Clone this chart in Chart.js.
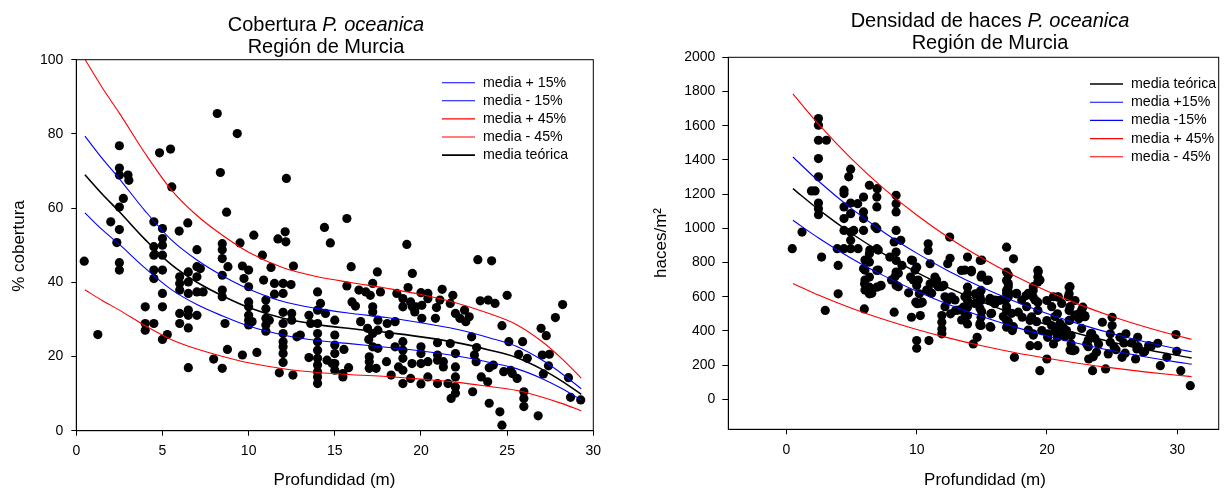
<!DOCTYPE html>
<html>
<head>
<meta charset="utf-8">
<script src="https://cdn.jsdelivr.net/npm/chart.js@4"></script>
<style>
  html, body { margin: 0; padding: 0; background: #fff; overflow: hidden; }
  #wrap { position: relative; width: 1232px; height: 491px; }
  canvas { position: absolute; top: 0; }
  #coverChart { left: 0; }
  #densChart { left: 616px; }
</style>
</head>
<body>
<div id="wrap">
  <canvas id="coverChart" width="616" height="491"></canvas>
  <canvas id="densChart" width="616" height="491"></canvas>
</div>
<script>
// Cobertura P. oceanica - puntos (profundidad m, % cobertura)
const coverDepth = [
  0.46, 1.25, 2.0, 2.35, 2.5, 2.5, 2.5, 2.5, 2.5, 2.5, 2.5, 2.73, 3.0, 3.05,
  4.0, 4.0, 4.0, 4.5, 4.5, 4.5, 4.5, 4.5, 4.5, 4.83, 5.0, 5.0, 5.0, 5.0, 5.0, 5.0, 5.0, 5.0,
  5.28, 5.47, 5.54, 5.97, 6.0, 6.0, 6.0, 6.0, 6.0, 6.47, 6.5, 6.5, 6.5, 6.5, 6.5, 6.5, 6.5,
  7.0, 7.0, 7.0, 7.0, 7.0, 7.2, 7.36, 7.97, 8.18, 8.36, 8.47, 8.47, 8.47, 8.47, 8.47, 8.47, 8.47,
  8.63, 8.72, 8.8, 8.77, 9.34, 9.5, 9.64, 9.73, 9.64,
  10.0, 10.0, 10.0, 10.0, 10.0, 10.0, 10.0, 10.2, 10.3, 10.48, 10.8, 10.87,
  11.0, 11.0, 11.0, 11.0, 11.0, 11.2, 11.3, 11.5, 11.5, 11.7, 11.78,
  12.0, 12.0, 12.0, 12.0, 12.0, 12.0, 12.0, 12.0, 12.0, 12.12, 12.16, 12.19, 12.46, 12.5, 12.5,
  12.6, 12.57, 12.8, 13.0, 13.5, 13.5, 13.6,
  14.0, 14.0, 14.0, 14.0, 14.0, 14.0, 14.0, 14.0, 14.0, 14.0, 14.0, 14.17, 14.4, 14.46, 14.55,
  14.74, 14.85, 15.0, 15.0, 15.0, 15.0, 15.0, 15.0, 15.47, 15.47, 15.53, 15.7, 15.7, 15.8, 15.95,
  16.0, 16.2, 16.4, 16.5, 16.8, 16.9, 16.97, 17.0, 17.0, 17.0, 17.06, 17.2, 17.2, 17.2, 17.2, 17.2,
  17.4, 17.47, 17.5, 17.5, 17.5, 17.65, 18.0, 18.04, 18.16, 18.27, 18.5, 18.5, 18.6, 18.7,
  18.95, 18.95, 18.95, 18.95, 18.95, 18.95, 18.95, 19.18, 19.25, 19.4, 19.5, 19.64, 19.5, 19.48,
  19.4, 19.7, 20.0, 20.0, 20.0, 20.0, 20.0, 20.05, 20.05, 20.4, 20.4, 20.4, 20.4,
  20.84, 20.9, 20.96, 20.96, 20.96, 20.96, 21.23, 21.1, 21.3, 21.3, 21.57, 21.7, 21.7, 21.75, 21.85,
  22.0, 22.0, 22.0, 22.0, 22.0, 22.0, 22.26, 22.53, 22.6, 22.8, 22.94, 23.0, 23.1, 23.2, 23.23,
  23.3, 23.44, 23.5, 23.87, 23.9, 23.96, 23.96, 24.1, 24.2, 24.3, 24.58, 24.7, 24.7, 24.8,
  25.0, 25.1, 25.2, 25.3, 25.58, 25.67, 25.9, 25.97, 25.97, 25.97, 26.17, 26.8, 26.97, 27.04,
  27.1, 27.27, 27.45, 27.4, 27.8, 28.22, 28.56, 28.68, 29.27
];
const coverValue = [
  45.7, 25.9, 56.3, 50.7, 76.8, 70.8, 68.9, 60.3, 54.2, 45.3, 43.3, 62.6, 68.9, 67.5,
  33.4, 28.9, 27.1, 56.3, 49.6, 47.3, 43.3, 41.0, 28.9, 74.9, 54.5, 51.8, 50.0, 47.3, 43.3, 37.0, 33.4, 24.6,
  25.9, 75.9, 65.7, 53.8, 41.5, 39.7, 37.9, 31.6, 28.9, 56.0, 42.8, 40.1, 37.0, 32.5, 31.1, 27.7, 17.0,
  48.8, 44.2, 41.5, 37.4, 31.1, 43.7, 37.4, 19.3, 85.5, 69.6, 50.4, 48.8, 46.4, 41.9, 37.9, 36.1, 16.8,
  28.9, 58.9, 44.2, 21.9, 80.1, 50.6, 44.4, 41.0, 20.4,
  43.3, 38.8, 34.7, 33.4, 31.1, 29.8, 28.5, 29.4, 52.7, 21.1, 47.3, 40.6,
  35.2, 32.9, 30.3, 28.5, 26.8, 29.8, 44.0, 39.7, 36.8, 51.7, 15.6,
  39.7, 37.0, 31.9, 28.9, 26.2, 24.0, 22.6, 20.8, 18.4, 53.6, 50.9, 68.0, 39.4, 31.6, 29.8,
  44.4, 15.0, 25.3, 25.8, 31.1, 19.7, 28.9,
  37.4, 32.5, 28.9, 26.2, 24.0, 21.7, 19.5, 17.7, 15.9, 14.5, 12.7, 34.3, 54.8, 31.6, 19.0,
  50.6, 18.1, 29.8, 25.8, 23.1, 20.8, 18.1, 16.3, 15.4, 14.5, 21.9, 57.2, 39.0, 17.0, 44.2,
  34.7, 33.6, 37.9, 29.4, 37.4, 27.6, 24.6, 19.9, 18.6, 16.8, 36.5, 39.7, 33.4, 32.0, 26.2, 22.6,
  16.8, 42.8, 29.8, 27.1, 22.2, 37.4, 18.6, 28.9, 25.9, 15.0, 29.4, 22.6, 37.0, 17.2,
  24.0, 21.7, 19.5, 16.3, 12.7, 35.6, 33.4, 50.2, 38.6, 34.7, 33.4, 32.0, 42.4, 18.1,
  14.1, 33.4, 37.2, 22.6, 20.8, 18.1, 12.6, 30.3, 33.8, 37.0, 35.6, 18.6, 14.5,
  30.3, 33.2, 23.7, 20.4, 19.0, 12.7, 38.1, 35.2, 18.6, 17.2, 12.7, 34.3, 23.5, 8.7, 36.5,
  20.8, 17.2, 14.5, 11.8, 10.1, 31.6, 30.3, 32.5, 29.4, 30.7, 25.3, 10.5, 20.4, 18.6, 22.4,
  46.1, 35.0, 14.5, 13.2, 35.2, 7.4, 17.0, 45.8, 17.7, 34.3, 5.1, 28.3, 1.5, 15.9,
  36.5, 24.0, 16.3, 15.4, 14.1, 20.6, 24.0, 10.5, 8.7, 6.5, 19.5, 4.0, 27.6, 20.4,
  15.3, 25.6, 20.6, 17.5, 30.5, 34.0, 14.3, 9.0, 8.3
];

// Curvas de cobertura: media teórica y bandas
const coverCurveDepth = [0.5, 1.5, 2.5, 4, 5.5, 7, 8.5, 10, 12, 14, 16, 18, 20, 22, 24, 25.5, 27, 28.2, 29.3];
const coverMean   = [69.0, 63.8, 59.0, 51.5, 44.8, 40.0, 36.3, 33.2, 30.3, 28.6, 27.5, 26.5, 25.3, 23.8, 21.7, 19.8, 16.6, 13.3, 9.8];
const coverPlus15 = [79.4, 73.4, 67.9, 59.2, 51.5, 46.0, 41.7, 38.2, 34.8, 32.9, 31.6, 30.5, 29.1, 27.4, 25.0, 22.8, 19.1, 15.3, 11.3];
const coverMinus15 = [58.7, 54.2, 50.2, 43.8, 38.1, 34.0, 30.9, 28.2, 25.8, 24.3, 23.4, 22.5, 21.5, 20.2, 18.4, 16.8, 14.1, 11.3, 8.3];
const coverPlus45 = [100.1, 92.5, 85.6, 74.7, 65.0, 58.0, 52.6, 48.1, 43.9, 41.5, 39.9, 38.4, 36.7, 34.5, 31.5, 28.7, 24.1, 19.3, 14.2];
const coverMinus45 = [38.0, 35.1, 32.5, 28.3, 24.6, 22.0, 20.0, 18.3, 16.7, 15.7, 15.1, 14.6, 13.9, 13.1, 11.9, 10.9, 9.1, 7.3, 5.4];

// Densidad de haces - puntos (profundidad m, haces/m2)
const densDepth = [
  0.45, 1.2, 1.92, 2.2, 2.46, 2.46, 2.46, 3.07, 2.46, 2.46, 2.46, 2.46, 2.46, 2.7, 2.98,
  3.97, 3.97, 3.9, 4.42, 4.42, 4.42, 4.42, 4.42, 4.42, 4.78, 4.93, 4.93, 4.93, 4.93, 4.93, 4.93,
  5.17, 5.47, 5.5, 5.92, 5.92, 5.92, 5.92, 5.92, 5.98, 6.0, 6.37, 6.97, 6.37, 6.37, 6.37, 6.37, 6.37,
  6.94, 6.94, 6.94, 6.94, 6.94, 6.94, 7.27, 7.94, 8.27, 8.27, 8.42, 8.42, 8.42, 8.42, 8.42, 8.42,
  8.42, 8.42, 8.78, 8.87, 9.38, 9.53, 9.6, 9.68, 10.0, 10.0, 10.0, 10.0, 10.04, 10.2, 10.28, 10.43,
  10.88, 10.88, 10.94, 11.03, 11.03, 11.03, 11.4, 11.93, 11.93, 11.93, 11.93, 12.08, 12.38, 12.53,
  12.38, 12.6, 12.98, 13.43, 13.58, 13.9, 13.9, 13.9, 13.9, 13.9, 13.9, 13.9, 14.2, 14.34, 14.5,
  14.64, 14.88, 14.94, 14.94, 14.94, 14.94, 14.94, 15.39, 15.6, 15.69, 15.69, 16.0, 16.3,
  16.9, 16.9, 16.9, 16.9, 16.9, 16.9, 16.9, 16.9, 16.9, 17.34, 17.43, 17.5, 17.64, 17.8, 18.1,
  18.4, 18.7, 18.7, 18.94, 18.94, 18.94, 19.3, 19.3, 19.3, 19.3, 19.3, 19.3, 19.45, 19.6,
  19.99, 19.99, 19.99, 20.05, 20.05, 20.35, 20.5, 20.8, 20.8, 20.8, 20.8, 21.25, 21.25, 21.5,
  21.7, 21.7, 21.7, 21.7, 21.85, 21.85, 22.0, 22.15, 22.45, 22.45, 22.75, 22.9, 23.05, 23.2,
  23.35, 23.5, 23.8, 23.96, 24.25, 24.5, 24.7, 24.86, 24.86, 25.0, 25.0, 25.16, 25.6, 25.76,
  26.06, 26.8, 26.9, 26.96, 27.4, 27.8, 28.5, 28.7, 29.2, 29.9, 29.96, 30.27, 31.0,
  6.8, 6.4, 7.05, 6.03, 6.03, 6.03, 6.03, 7.05, 7.2, 6.3, 6.55, 8.59, 8.33, 8.07, 8.59,
  9.6, 9.87, 10.12, 9.74, 9.93, 10.3, 10.77, 11.15, 11.4, 11.53, 11.66, 11.92, 12.17, 12.17,
  12.68, 12.94, 13.2, 13.7, 13.45, 13.7, 13.7, 14.2, 14.86, 14.47, 14.86, 14.86,
  14.99, 15.5, 14.86, 15.63, 16.0, 14.99, 15.75, 14.86, 15.63, 16.52, 17.03, 16.9, 17.29,
  17.03, 17.03, 16.65, 17.03, 17.42, 17.67, 18.06, 18.44, 18.57, 18.95, 19.08, 19.33, 19.46,
  18.82, 19.21, 18.57, 18.95, 20.49, 20.36, 20.87, 21.13, 20.61, 21.0, 20.61, 21.13, 21.38,
  21.77, 21.77, 22.15, 21.77, 21.77, 22.15, 22.66, 22.92, 22.66, 23.43, 23.17, 23.68, 23.17, 23.55,
  12.56, 14.99, 17.03, 17.03, 21.64, 27.0, 25.3, 26.0, 26.5, 27.5, 28.0, 25.9
];
const densValue = [
  881, 978, 1219, 1219, 1642, 1603, 1515, 1515, 1408, 1301, 1148, 1115, 1080, 832, 520,
  783, 617, 881, 1223, 1203, 1125, 1057, 988, 881, 1301, 1346, 1148, 1086, 978, 930, 881,
  988, 1144, 881, 1183, 1096, 1057, 988, 764, 529, 676, 1252, 1232, 851, 803, 715, 656, 617,
  1183, 1125, 998, 881, 754, 656, 666, 832, 920, 510, 1193, 1144, 1096, 988, 861, 812,
  744, 666, 930, 783, 623, 715, 480, 812, 773, 344, 299, 666, 559, 617, 490, 568,
  910, 871, 344, 793, 676, 627, 715, 490, 451, 412, 383, 666, 793, 949,
  578, 500, 520, 754, 539, 832, 656, 617, 578, 539, 490, 441, 754, 324, 617,
  363, 812, 715, 637, 578, 480, 432, 695, 578, 500, 422, 559, 578,
  890, 744, 695, 637, 588, 520, 461, 422, 617, 402, 822, 246, 617, 510, 480,
  607, 461, 314, 637, 598, 383, 754, 715, 686, 568, 520, 314, 168, 402,
  236, 578, 461, 383, 363, 432, 324, 598, 500, 422, 363, 383, 422, 402,
  656, 617, 520, 461, 373, 324, 285, 578, 500, 471, 539, 490, 324, 236,
  383, 168, 275, 324, 451, 178, 266, 383, 334, 480, 432, 305, 363, 246,
  383, 236, 295, 363, 275, 314, 328, 197, 246, 379, 281, 168, 80,
  1009, 873, 873, 815, 756, 698, 639, 756, 663, 639, 620, 737, 717, 698, 659,
  815, 756, 698, 698, 568, 562, 639, 620, 678, 698, 659, 659, 600, 542,
  600, 581, 522, 503, 464, 600, 756, 746, 600, 561, 532, 444,
  727, 698, 629, 590, 581, 512, 503, 434, 425, 581, 600, 542, 503,
  659, 629, 484, 454, 425, 620, 581, 542, 620, 659, 581, 746, 698,
  483, 454, 405, 376, 600, 542, 600, 561, 484, 444, 395, 386, 366,
  659, 542, 493, 464, 288, 288, 522, 483, 415, 386, 347, 357, 308, 249,
  825, 815, 727, 678, 600, 308, 290, 270, 330, 280, 310, 330
];

// Curvas de densidad: media teórica y bandas
const densCurveDepth = [0.5, 2.5, 5, 7.5, 10, 12.5, 15, 17.5, 20, 22.5, 25, 27.5, 30, 31.1];
const densMean    = [1232, 1108, 970, 849, 743, 651, 570, 499, 437, 382, 335, 293, 257, 242];
const densPlus15  = [1417, 1274, 1115, 976, 855, 748, 655, 574, 502, 440, 385, 337, 295, 278];
const densMinus15 = [1047, 942, 824, 722, 632, 553, 484, 424, 371, 325, 284, 249, 218, 206];
const densPlus45  = [1786, 1606, 1406, 1231, 1078, 943, 826, 723, 633, 554, 485, 425, 372, 351];
const densMinus45 = [678, 609, 533, 467, 409, 358, 313, 274, 240, 210, 184, 161, 141, 133];

// Ticks
const coverXTicks = [0, 5, 10, 15, 20, 25, 30];
const coverYTicks = [0, 20, 40, 60, 80, 100];
const densXTicks = [0, 10, 20, 30];
const densYTicks = [0, 200, 400, 600, 800, 1000, 1200, 1400, 1600, 1800, 2000];

const FONT = '"Liberation Sans", Arial, Helvetica, sans-serif';
const BLUE = '#0000ff';
const RED = '#ff0000';

function pts(xs, ys) {
  return xs.map((x, i) => ({ x: x, y: ys[i] }));
}

function curve(label, xs, ys, color, width) {
  return {
    type: 'scatter', label: label, data: pts(xs, ys), showLine: true,
    borderColor: color, backgroundColor: color, borderWidth: width,
    pointRadius: 0, cubicInterpolationMode: 'monotone', fill: false
  };
}

function dots(xs, ys) {
  return {
    type: 'scatter', label: 'datos', data: pts(xs, ys), showLine: false,
    pointRadius: 4.6, pointBorderWidth: 0, pointBackgroundColor: '#000',
    pointBorderColor: '#000', clip: false
  };
}

// titulos, leyenda y marco dibujados a mano
const decor = {
  id: 'decor',
  afterDraw(chart, args, o) {
    const ctx = chart.ctx;
    const a = chart.chartArea;
    ctx.save();
    ctx.strokeStyle = '#000';
    ctx.lineWidth = 1;
    ctx.strokeRect(a.left, a.top, a.right - a.left, a.bottom - a.top);

    ctx.fillStyle = '#000';
    ctx.textBaseline = 'alphabetic';
    ctx.font = '20px ' + FONT;
    const w1 = ctx.measureText(o.title[0]).width;
    ctx.font = 'italic 20px ' + FONT;
    const w2 = ctx.measureText(o.title[1]).width;
    const x0 = o.titleX - (w1 + w2) / 2;
    ctx.textAlign = 'left';
    ctx.font = '20px ' + FONT;
    ctx.fillText(o.title[0], x0, o.titleY[0]);
    ctx.font = 'italic 20px ' + FONT;
    ctx.fillText(o.title[1], x0 + w1, o.titleY[0]);
    ctx.font = '20px ' + FONT;
    ctx.textAlign = 'center';
    ctx.fillText(o.subtitle, o.titleX, o.titleY[1]);

    ctx.font = '17px ' + FONT;
    ctx.fillText(o.xTitle, o.xTitleX, o.xTitleY);
    ctx.save();
    ctx.translate(o.yTitleX, o.yTitleY);
    ctx.rotate(-Math.PI / 2);
    ctx.textBaseline = 'middle';
    ctx.fillText(o.yTitle, 0, 0);
    ctx.restore();

    ctx.font = '14.2px ' + FONT;
    ctx.textAlign = 'left';
    ctx.textBaseline = 'middle';
    o.legend.forEach((idx, i) => {
      const ds = chart.data.datasets[idx];
      const y = o.legendY + i * o.legendStep;
      ctx.strokeStyle = ds.borderColor;
      ctx.lineWidth = ds.borderWidth;
      ctx.beginPath();
      ctx.moveTo(o.legendX, y);
      ctx.lineTo(o.legendX + 33, y);
      ctx.stroke();
      ctx.fillText(ds.label, o.legendX + 41, y);
    });
    ctx.restore();
  }
};

function axis(min, max, ticks, tickLen, pad, fit) {
  return {
    type: 'linear', min: min, max: max,
    afterBuildTicks: s => { s.ticks = ticks.map(v => ({ value: v })); },
    afterFit: fit,
    grid: { drawOnChartArea: false, drawTicks: true, tickLength: tickLen, color: '#000', lineWidth: 1 },
    border: { color: '#000', width: 1 },
    ticks: {
      color: '#000', font: { family: FONT, size: 14 }, padding: pad, maxRotation: 0, autoSkip: false,
      callback: v => String(v)
    }
  };
}

// Grafico de cobertura
const coverChart = new Chart(document.getElementById('coverChart'), {
  type: 'scatter',
  data: {
    datasets: [
      curve('media + 15%', coverCurveDepth, coverPlus15, BLUE, 1.1),
      curve('media - 15%', coverCurveDepth, coverMinus15, BLUE, 1.1),
      curve('media + 45%', coverCurveDepth, coverPlus45, RED, 1.1),
      curve('media - 45%', coverCurveDepth, coverMinus45, RED, 1.1),
      curve('media teórica', coverCurveDepth, coverMean, '#000', 1.6),
      dots(coverDepth, coverValue)
    ]
  },
  options: {
    responsive: false,
    devicePixelRatio: 1,
    animation: false,
    events: [],
    layout: { padding: { left: 0, right: 22.7, top: 59.7, bottom: 0 } },
    scales: {
      x: axis(0, 30, coverXTicks, 5, 7, s => { s.height = 60.3; }),
      y: axis(0, 100, coverYTicks, 5, 8, s => { s.width = 76.3; })
    },
    plugins: {
      legend: { display: false },
      title: { display: false },
      tooltip: { enabled: false },
      decor: {
        title: ['Cobertura ', 'P. oceanica'], subtitle: 'Región de Murcia',
        titleX: 326, titleY: [31, 53],
        xTitle: 'Profundidad (m)', xTitleX: 334.5, xTitleY: 485,
        yTitle: '% cobertura', yTitleX: 19.5, yTitleY: 246,
        legend: [0, 1, 2, 3, 4], legendX: 442, legendY: 82.7, legendStep: 18.1
      }
    }
  },
  plugins: [decor]
});

// Grafico de densidad
const densChart = new Chart(document.getElementById('densChart'), {
  type: 'scatter',
  data: {
    datasets: [
      curve('media teórica', densCurveDepth, densMean, '#000', 1.4),
      curve('media +15%', densCurveDepth, densPlus15, BLUE, 1.1),
      curve('media -15%', densCurveDepth, densMinus15, BLUE, 1.1),
      curve('media + 45%', densCurveDepth, densPlus45, RED, 1.1),
      curve('media - 45%', densCurveDepth, densMinus45, RED, 1.1),
      dots(densDepth, densValue)
    ]
  },
  options: {
    responsive: false,
    devicePixelRatio: 1,
    animation: false,
    events: [],
    layout: { padding: { left: 0, right: 13.3, top: 57.3, bottom: 0 } },
    scales: {
      x: axis(-4.46, 33.18, densXTicks, 5, 7, s => { s.height = 61.7; }),
      y: axis(-175, 2000, densYTicks, 6, 7, s => { s.width = 112.3; })
    },
    plugins: {
      legend: { display: false },
      title: { display: false },
      tooltip: { enabled: false },
      decor: {
        title: ['Densidad de haces ', 'P. oceanica'], subtitle: 'Región de Murcia',
        titleX: 374, titleY: [27, 49],
        xTitle: 'Profundidad (m)', xTitleX: 369, xTitleY: 485,
        yTitle: 'haces/m²', yTitleX: 45, yTitleY: 243,
        legend: [0, 1, 2, 3, 4], legendX: 474, legendY: 84, legendStep: 18.2
      }
    }
  },
  plugins: [decor]
});
</script>
</body>
</html>
